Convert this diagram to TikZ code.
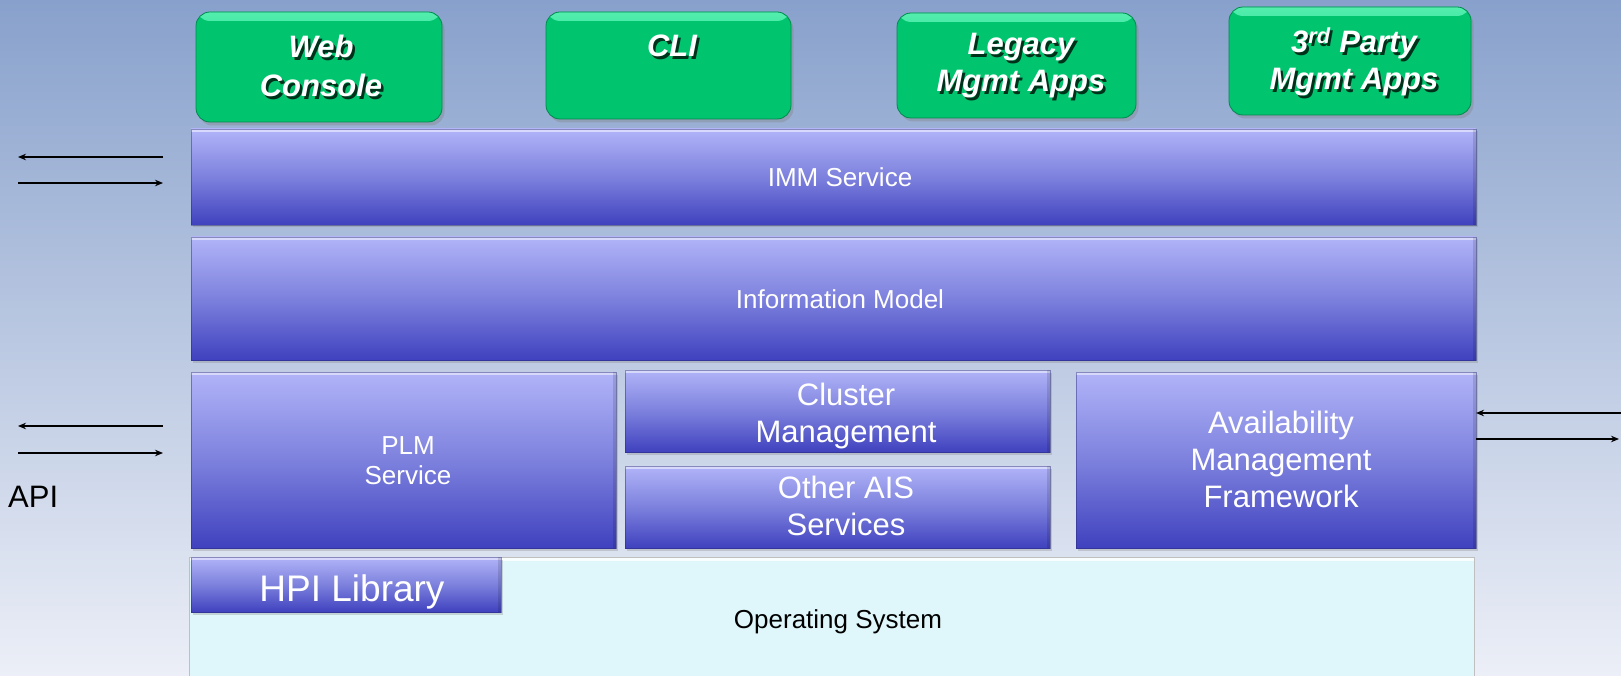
\documentclass[tikz,border=0pt]{standalone}
\usepackage{fontspec}
\setmainfont{Liberation Sans}
\usetikzlibrary{arrows.meta,shadows}
\definecolor{bgtop}{HTML}{88A1CC}
\definecolor{bgbot}{HTML}{ECEFF7}
\definecolor{btop}{HTML}{B1B4F8}
\definecolor{bmid}{HTML}{7D81DD}
\definecolor{bbot}{HTML}{3F41BE}
\definecolor{gfill}{HTML}{00C46E}
\definecolor{gtop}{HTML}{52EEAE}
\definecolor{osfill}{HTML}{DFF7FA}
\newcommand\mygreenlabel[4]{%
  \node[gtxt, text=black, opacity=0.75] (#1s) at (#2+2.5,#3+2.5) {#4};
  \node[gtxt] (#1) at (#2,#3) {#4};}
\begin{document}
\begin{tikzpicture}[x=1pt,y=-1pt,
  box/.style={inner sep=0pt, outer sep=0pt},
  bluebox/.style={box, top color=btop, bottom color=bbot, middle color=bmid,
    draw=bbot!60!black, draw opacity=0.45, line width=0.6pt,
    drop shadow={shadow xshift=2pt,shadow yshift=-2.5pt,opacity=0.3},
    path picture={\fill[white,opacity=0.5] (path picture bounding box.north west) rectangle ([yshift=-3pt]path picture bounding box.north east);
      \fill[black,opacity=0.12] (path picture bounding box.north east) rectangle ([xshift=-3pt]path picture bounding box.south east);}},
  greenbox/.style={box, rounded corners=14pt, fill=gfill,
    draw=gfill!70!black, line width=0.8pt,
    drop shadow={shadow xshift=2.5pt,shadow yshift=-3.5pt,opacity=0.35},
    path picture={\shade[top color=gtop, bottom color=gfill] (path picture bounding box.north west) rectangle ([yshift=-9pt]path picture bounding box.north east);}},
  osbox/.style={box, fill=osfill, draw=black!25, line width=0.6pt,
    path picture={\fill[white,opacity=0.8] (path picture bounding box.north west) rectangle ([yshift=-4pt]path picture bounding box.north east);}},
  btxt/.style={text=white, inner sep=0pt, anchor=base},
  ktxt/.style={text=black, inner sep=0pt, anchor=base},
  fa/.style={font=\fontsize{26}{31}\selectfont},
  fb/.style={font=\fontsize{31}{37}\selectfont},
  fc/.style={font=\fontsize{37}{44}\selectfont},
  gtxt/.style={text=white, inner sep=0pt, anchor=base, font=\fontsize{31}{37}\selectfont\bfseries\itshape},
  arr/.style={line width=1.6pt, black, -{Stealth[length=8pt,width=6.5pt]}}
]
\useasboundingbox (0,0) rectangle (1621,676);
\shade[top color=bgtop, bottom color=bgbot] (0,0) rectangle (1621,676);

% operating system and HPI
\node[osbox, minimum width=1285pt, minimum height=121pt] (os) at (831.5,617.5) {};
\node[bluebox, minimum width=310pt, minimum height=55pt] (hpi) at (346,584.5) {};

% blue layers
\node[bluebox, minimum width=1285pt, minimum height=96pt] (imm) at (833.5,177) {};
\node[bluebox, minimum width=1285pt, minimum height=123pt] (info) at (833.5,298.5) {};
\node[bluebox, minimum width=425pt, minimum height=176pt] (plm) at (403.5,460) {};
\node[bluebox, minimum width=425pt, minimum height=82pt] (clm) at (837.5,411) {};
\node[bluebox, minimum width=425pt, minimum height=82pt] (ais) at (837.5,507) {};
\node[bluebox, minimum width=400pt, minimum height=176pt] (amf) at (1276,460) {};

% green apps
\node[greenbox, minimum width=246pt, minimum height=110pt] (web) at (319,67) {};
\node[greenbox, minimum width=245pt, minimum height=107pt] (cli) at (668.5,65.5) {};
\node[greenbox, minimum width=239pt, minimum height=105pt] (leg) at (1016.5,65.5) {};
\node[greenbox, minimum width=242pt, minimum height=108pt] (trd) at (1350,61) {};

\mygreenlabel{webA}{321}{58}{Web}
\mygreenlabel{webB}{321}{97}{Console}
\mygreenlabel{cliA}{672}{57}{CLI}
\mygreenlabel{legA}{1021}{55}{Legacy}
\mygreenlabel{legB}{1021}{92}{Mgmt Apps}
\mygreenlabel{trdA}{1354}{53}{3\textsuperscript{rd} Party}
\mygreenlabel{trdB}{1354}{90}{Mgmt Apps}

% texts
\node[btxt, fa] (immT) at (840,187) {IMM Service};
\node[btxt, fa] (infoT) at (840,308) {Information Model};
\node[btxt, fa] (plmA) at (408,454) {PLM};
\node[btxt, fa] (plmB) at (408,484) {Service};
\node[btxt, fb] (clmA) at (846,405) {Cluster};
\node[btxt, fb] (clmB) at (846,442) {Management};
\node[btxt, fb] (aisA) at (846,498) {Other AIS};
\node[btxt, fb] (aisB) at (846,535) {Services};
\node[btxt, fb] (amfA) at (1281,433) {Availability};
\node[btxt, fb] (amfB) at (1281,470) {Management};
\node[btxt, fb] (amfC) at (1281,507) {Framework};
\node[btxt, fc] (hpiT) at (352,601) {HPI Library};
\node[ktxt, fa] (osT) at (838,628) {Operating System};
\node[ktxt, fb, anchor=base west] (api) at (8,507) {API};

% arrows
\coordinate (l1a) at (163,157); \coordinate (l1b) at (18,157);
\coordinate (l2a) at (18,183);  \coordinate (l2b) at (163,183);
\coordinate (l3a) at (163,426); \coordinate (l3b) at (18,426);
\coordinate (l4a) at (18,453);  \coordinate (l4b) at (163,453);
\coordinate (r1a) at (1621,413); \coordinate (r1b) at (1476,413);
\coordinate (r2a) at (1476,439); \coordinate (r2b) at (1619,439);
\draw[arr] (l1a) -- (l1b);
\draw[arr] (l2a) -- (l2b);
\draw[arr] (l3a) -- (l3b);
\draw[arr] (l4a) -- (l4b);
\draw[arr] (r1a) -- (r1b);
\draw[arr] (r2a) -- (r2b);
\end{tikzpicture}
\end{document}
